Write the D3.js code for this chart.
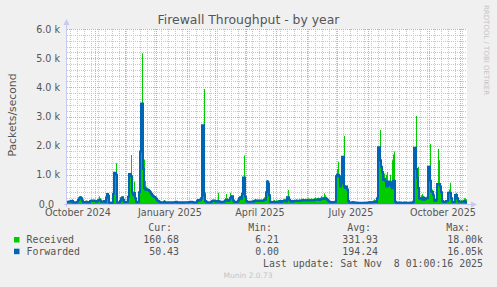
<!DOCTYPE html>
<html>
<head>
<meta charset="utf-8">
<title>Firewall Throughput - by year</title>
<script src="https://cdn.jsdelivr.net/npm/d3@7"></script>
<style>
  body { margin: 0; background: #f0f0f0; }
  svg { display: block; }
  text { fill: #555; font-family: "DejaVu Sans", sans-serif; }
  .mono { font-family: "DejaVu Sans Mono", monospace; font-size: 9.9px; white-space: pre; }
  .minor { stroke: #c8c8c8; stroke-dasharray: 1,1; }
  .major { stroke: #e8a0a0; stroke-dasharray: 1,1; }
</style>
</head>
<body>
<svg width="497" height="287"></svg>
<script>
// daily values (thousands of packets/second), first day = 4 Oct 2024
var received = [
  .10,.10,.12,.10,.14,.16,.08,.07,.06,.07, .10,.16,.22,.27,.24,.15,.08,.09,.10,.12,
  .08,.07,.08,.12,.13,.12,.13,.11,.12,.10, .12,.18,.27,.20,.10,.09,.10,.12,.08,.25,
  .37,.30,.06,.05,.05,.06,.40,1.05,1.10,1.40, .10,.06,.08,.12,.22,.25,.18,.10,.09,.10,
  .10,.30,1.05,1.03,1.68,.40,.35,.77,.30,.10, .08,.10,.50,2.0,3.4,5.17,2.5,1.53,.80,.60,
  .55,.50,.45,.42,.38,.35,.30,.28,.25,.20, .15,.12,.10,.08,.06,.06,.08,.14,.08,.06,
  .06,.07,.08,.07,.06,.06,.07,.08,.10,.10, .08,.06,.06,.08,.07,.06,.06,.07,.08,.07,
  .07,.08,.10,.10,.10,.09,.07,.06,.07,.08, .12,.15,.14,.20,.30,2.6,2.6,3.94,.40,.10,
  .08,.07,.06,.08,.10,.12,.15,.13,.12,.10, .10,.39,.12,.10,.08,.09,.10,.12,.20,.34,
  .20,.12,.25,.39,.30,.27,.15,.10,.10,.09, .10,.15,.23,.28,.20,.40,.91,1.66,.30,.12,
  .10,.10,.09,.10,.10,.12,.10,.12,.17,.15, .12,.15,.14,.13,.15,.12,.14,.23,.20,.55,
  .82,.77,.35,.12,.10,.10,.12,.14,.10,.12, .10,.14,.12,.15,.10,.12,.15,.18,.16,.12,
  .25,.48,.20,.14,.12,.15,.13,.15,.14,.16, .15,.14,.16,.15,.18,.18,.19,.17,.18,.18,
  .18,.20,.17,.18,.19,.18,.17,.20,.22,.20, .20,.22,.18,.20,.27,.25,.22,.37,.30,.25,
  .20,.15,.10,.08,.10,.09,.08,.10,.12,1.0, 1.2,1.45,1.0,.90,1.0,1.3,1.5,2.33,.65,.60,
  .55,.15,.08,.07,.08,.10,.10,.08,.07,.06, .06,.05,.05,.06,.05,.05,.06,.05,.05,.06,
  .07,.08,.10,.10,.08,.10,.12,.16,.14,.10, .30,1.9,1.95,2.54,1.5,1.2,1.0,1.05,.90,1.0,
  1.1,.70,.65,1.0,.80,1.5,1.7,1.8,.10,.07, .06,.06,.08,.07,.06,.05,.06,.08,.07,.06,
  .06,.05,.06,.07,.06,.08,.12,1.5,1.93,3.02, 1.2,1.28,.30,.25,.30,.34,.28,.20,.22,.25,
  .30,.50,1.3,2.06,.77,.50,.40,.15,.14,.20, .50,1.89,1.5,.60,.50,.15,.12,.10,.12,.14,
  .15,.30,.50,.73,.35,.12,.10,.10,.20,.39, .30,.15,.12,.12,.14,.12,.15,.20,.20,.16
];
var forwarded = [
  .08,.08,.09,.08,.10,.10,.06,.05,.05,.06, .08,.14,.20,.23,.20,.12,.06,.07,.07,.08,
  .06,.06,.07,.10,.11,.12,.12,.10,.10,.08, .10,.13,.15,.12,.08,.08,.09,.10,.07,.22,
  .34,.28,.05,.04,.04,.05,.35,1.07,1.07,1.0, .06,.05,.06,.10,.20,.23,.15,.08,.07,.08,
  .08,.25,1.03,1.03,.95,.39,.30,.38,.20,.08, .06,.08,.40,1.8,3.45,3.45,1.2,.55,.50,.48,
  .50,.48,.45,.40,.35,.30,.27,.24,.22,.18, .12,.10,.08,.06,.05,.05,.06,.08,.06,.05,
  .05,.06,.06,.06,.05,.05,.06,.06,.07,.08, .06,.05,.05,.06,.06,.05,.05,.06,.06,.06,
  .06,.06,.07,.08,.08,.07,.06,.05,.06,.06, .10,.14,.12,.15,.20,2.7,2.7,.30,.10,.08,
  .06,.05,.05,.06,.08,.10,.12,.11,.10,.08, .08,.10,.09,.08,.06,.07,.08,.09,.12,.15,
  .14,.10,.15,.20,.25,.27,.12,.08,.08,.07, .08,.12,.20,.23,.18,.35,.91,.91,.25,.10,
  .08,.08,.07,.08,.08,.09,.08,.10,.12,.12, .10,.12,.11,.10,.12,.10,.12,.15,.15,.40,
  .77,.70,.30,.08,.07,.07,.07,.08,.07,.08, .07,.09,.08,.10,.07,.09,.10,.12,.11,.09,
  .23,.23,.15,.10,.08,.10,.09,.10,.10,.11, .10,.10,.11,.11,.12,.12,.13,.12,.12,.12,
  .12,.13,.12,.12,.13,.12,.12,.14,.15,.15, .15,.16,.14,.15,.18,.18,.17,.20,.20,.18,
  .15,.10,.08,.06,.07,.06,.06,.07,.08,.95, 1.0,1.0,.95,.60,.70,1.62,1.62,.60,.55,.60,
  .50,.10,.05,.05,.05,.06,.06,.05,.05,.04, .04,.04,.04,.04,.04,.04,.04,.04,.04,.04,
  .05,.05,.06,.06,.05,.06,.07,.08,.08,.07, .20,1.95,1.95,1.5,1.28,1.1,.82,.85,.80,.60,
  .60,.77,.65,.75,.60,.54,.80,.80,.08,.05, .04,.04,.05,.05,.04,.04,.04,.05,.05,.04,
  .04,.04,.04,.05,.04,.05,.08,1.93,1.93,1.2, .90,.55,.20,.18,.20,.15,.22,.15,.17,.20,
  .20,1.28,1.28,.80,.42,.42,.30,.12,.10,.15, .69,.69,.69,.60,.40,.10,.08,.07,.08,.10,
  .10,.39,.39,.39,.20,.08,.07,.08,.31,.31, .20,.10,.08,.08,.08,.08,.08,.10,.07,.05
];
var yTicks = [0, 1, 2, 3, 4, 5, 6];
var monthLabels = ["October 2024", "January 2025", "April 2025", "July 2025", "October 2025"];
var legendNames = ["Received", "Forwarded"];
var legendCur = ["160.68", "50.43"];
var legendMin = ["6.21", "0.00"];
var legendAvg = ["331.93", "194.24"];
var legendMax = ["18.00k", "16.05k"];

var start = new Date(2024, 9, 4, 1, 0, 16);
var end = new Date(2025, 10, 8, 1, 0, 16);
var pL = 67, pR = 467, pT = 29, pB = 204;

var svg = d3.select("svg");
var x = d3.scaleTime().domain([start, end]).range([pL, pR]);
var y = d3.scaleLinear().domain([0, 6]).range([pB, pT]);

svg.append("rect").attr("x", pL).attr("y", pT)
  .attr("width", pR - pL).attr("height", pB - pT).attr("fill", "#fff");

// grid
var grid = svg.append("g").attr("shape-rendering", "crispEdges");
var minorY = d3.range(0, 6.01, 0.2).filter(function(v) { return Math.abs(v - Math.round(v)) > 0.01; });
grid.selectAll("line.my").data(minorY).enter().append("line").attr("class", "minor")
  .attr("x1", pL).attr("x2", pR)
  .attr("y1", function(d) { return Math.round(y(d)) + 0.5; })
  .attr("y2", function(d) { return Math.round(y(d)) + 0.5; });
grid.selectAll("line.mx").data(d3.timeMonday.range(start, end)).enter().append("line").attr("class", "minor")
  .attr("y1", pT).attr("y2", pB)
  .attr("x1", function(d) { return Math.round(x(d)) + 0.5; })
  .attr("x2", function(d) { return Math.round(x(d)) + 0.5; });
grid.selectAll("line.My").data(yTicks).enter().append("line").attr("class", "major")
  .attr("x1", pL).attr("x2", pR)
  .attr("y1", function(d) { return Math.round(y(d)) + 0.5; })
  .attr("y2", function(d) { return Math.round(y(d)) + 0.5; });
grid.selectAll("line.Mx").data(d3.timeMonth.range(start, end)).enter().append("line").attr("class", "major")
  .attr("y1", pT).attr("y2", pB)
  .attr("x1", function(d) { return Math.round(x(d)) + 0.5; })
  .attr("x2", function(d) { return Math.round(x(d)) + 0.5; });

// series
var days = received.map(function(v, i) { return d3.timeDay.offset(start, i); });
function stepped(arr) {
  var pts = arr.map(function(v, i) { return [days[i], v]; });
  pts.push([end, arr[arr.length - 1]]);
  return pts;
}
svg.append("path").datum(stepped(received))
  .attr("fill", "#00cc00")
  .attr("d", d3.area().curve(d3.curveStepAfter)
    .x(function(d) { return x(d[0]); }).y0(pB).y1(function(d) { return y(d[1]); }));
svg.append("path").datum(stepped(forwarded))
  .attr("fill", "none").attr("stroke", "#0066b3").attr("stroke-width", 2)
  .attr("d", d3.line().curve(d3.curveStepAfter)
    .x(function(d) { return x(d[0]); }).y(function(d) { return Math.min(y(d[1]), pB - 1); }));

// axes with arrows
var axisCol = "#c8c8f0";
svg.append("line").attr("x1", pL - 0.5).attr("x2", pL - 0.5).attr("y1", pB + 3).attr("y2", pT - 6)
  .attr("stroke", axisCol);
svg.append("line").attr("x1", pL - 3).attr("x2", pR + 6).attr("y1", pB + 0.5).attr("y2", pB + 0.5)
  .attr("stroke", axisCol);
svg.append("path").attr("d", "M" + (pL - 3.5) + "," + (pT - 4) + "L" + (pL - 0.5) + "," + (pT - 10) + "L" + (pL + 2.5) + "," + (pT - 4) + "Z")
  .attr("fill", axisCol);
svg.append("path").attr("d", "M" + (pR + 4) + "," + (pB - 2.5) + "L" + (pR + 10) + "," + (pB + 0.5) + "L" + (pR + 4) + "," + (pB + 3.5) + "Z")
  .attr("fill", axisCol);

// y labels
svg.selectAll("text.yl").data(yTicks).enter().append("text")
  .attr("x", function(d) { return d === 0 ? 54 : 60; })
  .attr("y", function(d) { return y(d) + 3.5; })
  .attr("text-anchor", "end").attr("font-size", "9.6px")
  .text(function(d) { return d === 0 ? "0.0" : d.toFixed(1) + " k"; });

// x labels, every third month
var labelMonths = d3.timeMonth.every(3).range(d3.timeMonth.floor(start), end);
svg.selectAll("text.xl").data(labelMonths).enter().append("text")
  .attr("x", function(d) { return x(d3.timeDay.offset(d, 14)); })
  .attr("y", 216).attr("text-anchor", "middle").attr("font-size", "9.6px")
  .text(function(d, i) { return monthLabels[i]; });

svg.append("text").attr("x", 248.5).attr("y", 24).attr("text-anchor", "middle")
  .attr("font-size", "12.4px").text("Firewall Throughput - by year");
svg.append("text").attr("transform", "translate(16,115) rotate(-90)").attr("text-anchor", "middle")
  .attr("font-size", "10.8px").text("Packets/second");
svg.append("text").attr("transform", "translate(484,5) rotate(90)").attr("text-anchor", "start")
  .attr("font-size", "7px").style("fill", "#c4c4c4").text("RRDTOOL / TOBI OETIKER");

// legend
var cols = [[172, "Cur:", legendCur, 179], [272, "Min:", legendMin, 279], [371, "Avg:", legendAvg, 378], [470, "Max:", legendMax, 483]];
cols.forEach(function(c) {
  svg.append("text").attr("class", "mono").attr("x", c[0]).attr("y", 231).attr("text-anchor", "end").text(c[1]);
  c[2].forEach(function(v, i) {
    svg.append("text").attr("class", "mono").attr("x", c[3]).attr("y", 243 + i * 11.7).attr("text-anchor", "end").text(v);
  });
});
var colors = ["#00cc00", "#0066b3"];
legendNames.forEach(function(n, i) {
  svg.append("rect").attr("x", 14).attr("y", 237 + i * 11.7).attr("width", 5.5).attr("height", 5.5).attr("fill", colors[i]);
  svg.append("text").attr("class", "mono").attr("x", 26.5).attr("y", 243 + i * 11.7).text(n);
});
svg.append("text").attr("class", "mono").attr("x", 483).attr("y", 267).attr("text-anchor", "end")
  .text("Last update: Sat Nov  8 01:00:16 2025");
svg.append("text").attr("x", 248).attr("y", 278).attr("text-anchor", "middle")
  .attr("font-size", "7.5px").style("fill", "#c4c4c4").text("Munin 2.0.73");
</script>
</body>
</html>
